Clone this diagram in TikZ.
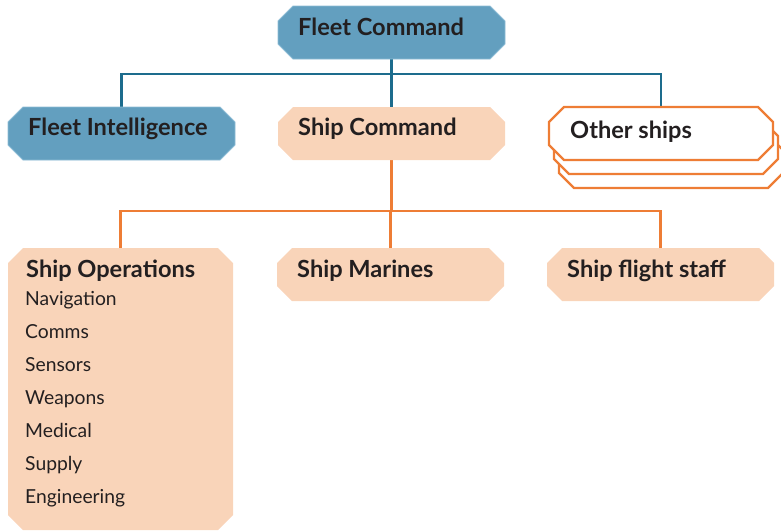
\documentclass[tikz,border=0pt]{standalone}
\usepackage{fontspec}
\setmainfont{Lato}
\usetikzlibrary{calc}

\definecolor{cmdblue}{HTML}{639FBF}
\definecolor{cmdedge}{HTML}{8DBCD5}
\definecolor{linkblue}{HTML}{1D6C8D}
\definecolor{shipfill}{HTML}{F9D4B9}
\definecolor{shiporange}{HTML}{EE7D35}
\definecolor{ink}{HTML}{231F20}

% octagonal outline around a named rectangular frame node
\newcommand\chamferbox[3]{%
  \path[#1] ([xshift=#3]#2.north west) -- ([xshift=-#3]#2.north east)
    -- ([yshift=-#3]#2.north east) -- ([yshift=#3]#2.south east)
    -- ([xshift=-#3]#2.south east) -- ([xshift=#3]#2.south west)
    -- ([yshift=#3]#2.south west) -- ([yshift=-#3]#2.north west) -- cycle;}

\tikzset{
  frame/.style={rectangle, inner sep=0pt, outer sep=0pt, draw=none,
    anchor=north west, minimum width=#1, minimum height=53pt},
  frame/.default=227pt,
  bluebox/.style={fill=cmdblue, draw=cmdedge, line width=0.8pt},
  peachbox/.style={fill=shipfill, draw=none},
  stackbox/.style={fill=white, draw=shiporange, line width=2.4pt, line join=miter},
  title/.style={anchor=base west, inner sep=0pt, text=ink,
    font=\bfseries\fontsize{23.6}{28}\selectfont},
  item/.style={anchor=base west, inner sep=0pt, text=ink,
    font=\fontsize{19.3}{23}\selectfont},
  blueline/.style={draw=linkblue, line width=2.4pt},
  orangeline/.style={draw=shiporange, line width=2.4pt},
}

\begin{document}
\begin{tikzpicture}[x=1pt, y=-1pt]
\useasboundingbox (0,0) rectangle (781,531);

% frames of the boxes
\node[frame] (fc) at (278,6) {};
\node[frame] (fi) at (8,107) {};
\node[frame] (sc) at (278,107) {};
\node[frame=224pt] (os) at (549,107) {};
\node[frame=224pt] (os2) at (554,121) {};
\node[frame=224pt] (os3) at (559,135) {};
\node[frame=225pt, minimum height=282pt] (so) at (8,248) {};
\node[frame] (sm) at (277,248) {};
\node[frame] (sf) at (547,248) {};

% connectors
\coordinate (b1) at ($(fc.south)+(0,15)$);
\coordinate (b2) at ($(sc.south)+(0,51)$);
\draw[blueline] (fc.south) -- (b1);
\draw[blueline] (fi.north) |- (b1) -| (os.north);
\draw[blueline] (sc.north) |- (b1);
\draw[orangeline] (sc.south) -- (b2);
\draw[orangeline] (so.north) |- (b2) -| (sf.north);
\draw[orangeline] (sm.north) |- (b2);

% box outlines
\chamferbox{bluebox}{fc}{15pt}
\chamferbox{bluebox}{fi}{15pt}
\chamferbox{peachbox}{sc}{15pt}
\chamferbox{stackbox}{os3}{15pt}
\chamferbox{stackbox}{os2}{15pt}
\chamferbox{stackbox}{os}{15pt}
\chamferbox{peachbox}{so}{15pt}
\chamferbox{peachbox}{sm}{15pt}
\chamferbox{peachbox}{sf}{15pt}

% labels
\node[title] (fct) at ($(fc.north west)+(20pt,-29pt)$) {Fleet Command};
\node[title] (fit) at ($(fi.north west)+(20pt,-28pt)$) {Fleet Intelligence};
\node[title] (sct) at ($(sc.north west)+(20pt,-28pt)$) {Ship Command};
\node[title] (ost) at ($(os.north west)+(21pt,-31pt)$) {Other ships};
\node[title] (sot) at ($(so.north west)+(18pt,-29pt)$) {Ship Operations};
\node[title] (smt) at ($(sm.north west)+(20pt,-29pt)$) {Ship Marines};
\node[title] (sft) at ($(sf.north west)+(20pt,-29pt)$) {Ship flight staff};

\foreach \name [count=\k from 0] in {Navigation, Comms, Sensors, Weapons, Medical, Supply, Engineering}
  \node[item] (it\k) at ($(so.north west)+(17pt,{-57pt-33.1pt*\k})$) {\name};
\end{tikzpicture}
\end{document}
